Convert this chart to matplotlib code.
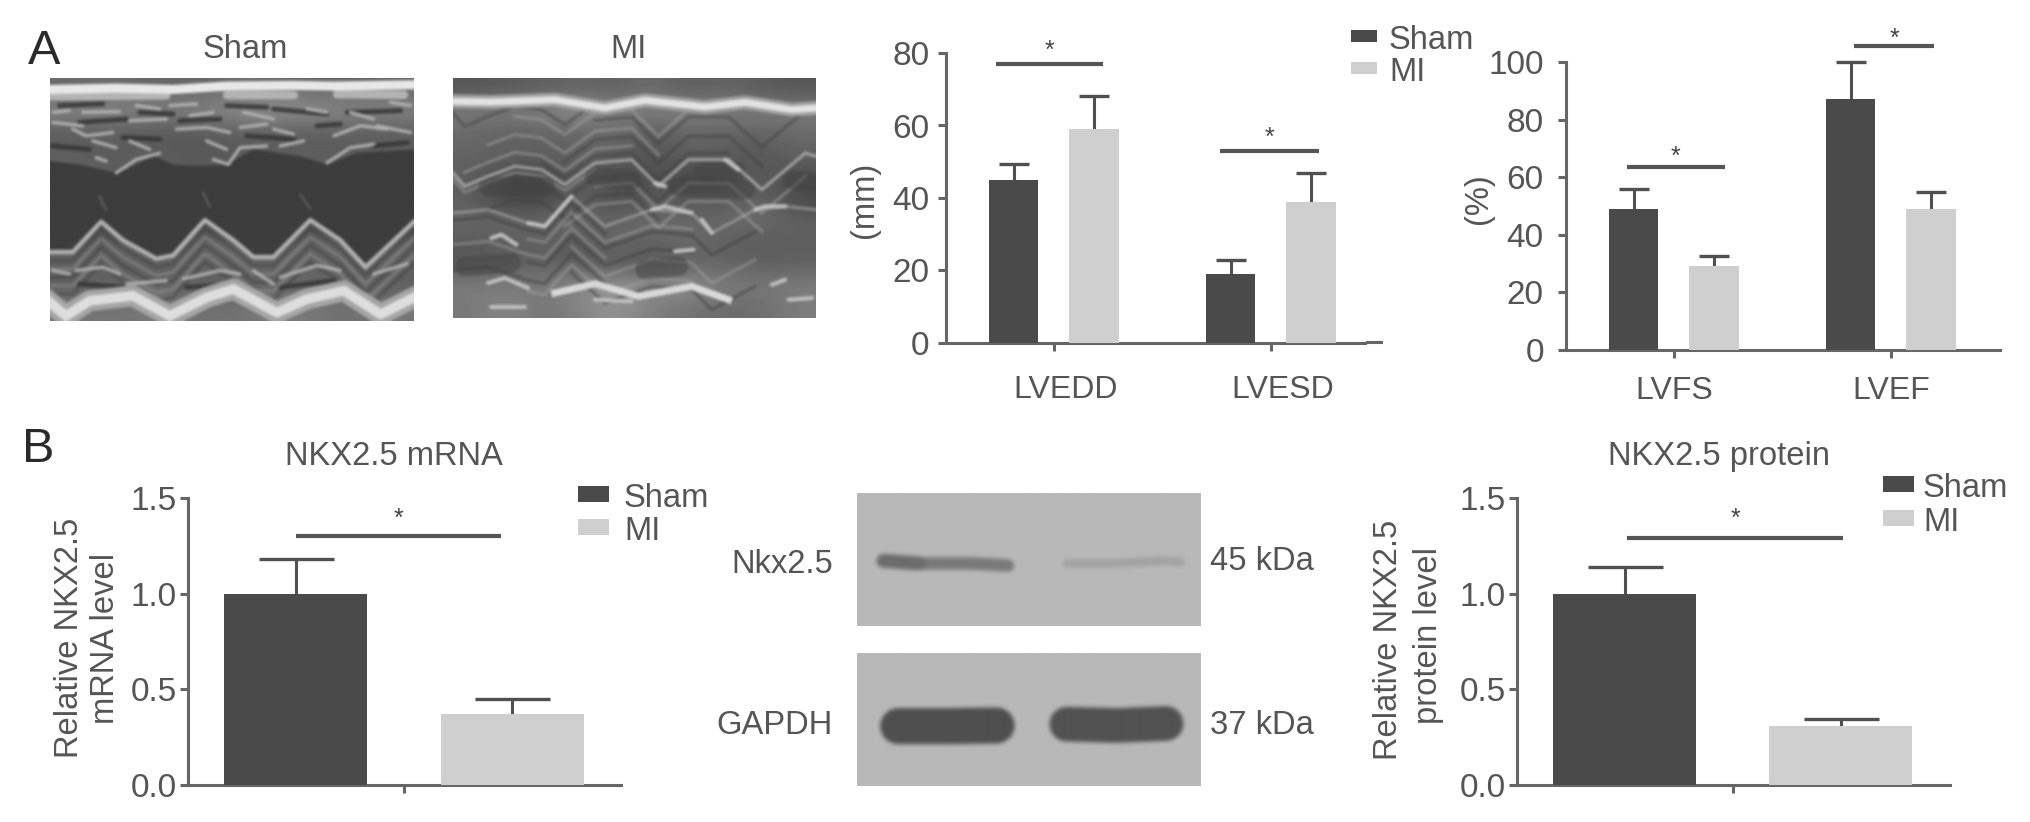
import numpy as np
import matplotlib
matplotlib.use('Agg')
import matplotlib.pyplot as plt
from matplotlib.lines import Line2D
from matplotlib.patches import Rectangle
from matplotlib.transforms import ScaledTranslation

plt.rcParams['font.family'] = ['Liberation Sans', 'DejaVu Sans']

W, H = 2031, 822
DARK = '#4a4a4a'
LIGHT = '#cfcfcf'
AXIS = '#666666'
TEXT = '#555555'

# panel A bars
lv_groups = ['LVEDD', 'LVESD']
lv_sham = [45, 19]
lv_mi = [59, 39]
lv_sham_err = [4.5, 4]
lv_mi_err = [9, 8]
lv_sig = [(-0.267, 0.226, 77, 82), (0.765, 1.221, 53, 58)]

fx_groups = ['LVFS', 'LVEF']
fx_sham = [49, 87]
fx_mi = [29, 49]
fx_sham_err = [7, 13]
fx_mi_err = [3.5, 6]
fx_sig = [(-0.217, 0.235, 63.5, 69), (0.83, 1.2, 105.7, 110)]

# panel B bars
mrna_vals = [1.0, 0.37]
mrna_err = [0.18, 0.08]
mrna_sig = (0.0, 0.95, 1.30, 1.42)
prot_vals = [1.0, 0.31]
prot_err = [0.14, 0.035]
prot_sig = (0.01, 1.01, 1.29, 1.42)

# echo panels, traced in picture units
sham_grid = [
    [105, 110, 100, 105, 110, 105, 100, 105],
    [135, 135, 125, 135, 150, 150, 135, 135],
    [90, 95, 85, 90, 95, 90, 95, 90],
    [95, 90, 95, 85, 90, 95, 90, 95],
    [100, 90, 95, 90, 95, 100, 95, 95],
    [70, 70, 70, 70, 70, 70, 70, 70],
    [70, 70, 70, 70, 70, 70, 70, 70],
    [95, 100, 105, 100, 110, 100, 105, 100],
    [100, 95, 95, 100, 95, 100, 95, 100],
    [95, 100, 105, 95, 100, 105, 100, 95],
    [120, 115, 125, 110, 120, 125, 110, 120],
]
sham_lumen_x = [32, 120, 230, 260, 340, 400, 480, 560, 640, 780, 860, 950, 1120]
sham_lumen_top = [275, 285, 310, 300, 258, 285, 290, 285, 240, 260, 285, 250, 240]
sham_edge_x = [32, 100, 185, 250, 350, 400, 495, 580, 640, 700, 810, 900, 975, 1120]
sham_edge_y = [545, 545, 455, 510, 565, 555, 450, 510, 560, 560, 450, 510, 590, 455]
sham_top_x = [32, 230, 400, 560, 760, 880, 1120]
sham_top_y = [62, 58, 62, 52, 50, 52, 48]
sham_chunks = [([32, 380], [82, 80]), ([560, 760], [78, 78]), ([890, 1090], [76, 78])]
sham_bottom_x = [32, 80, 150, 280, 390, 500, 580, 710, 800, 910, 1020, 1120]
sham_bottom_y = [695, 735, 690, 675, 735, 680, 655, 725, 685, 660, 730, 680]
sham_traces = [
    ([230, 290, 360], [310, 270, 252]), ([520, 565, 600, 680], [270, 285, 235, 230]),
    ([860, 930, 1000], [280, 235, 225]), ([100, 140, 220], [180, 200, 190]),
    ([130, 240], [130, 128]), ([410, 500, 570], [180, 175, 190]),
    ([700, 760], [180, 195]), ([880, 960, 1040], [200, 170, 180]),
    ([270, 380], [155, 150]), ([610, 700], [130, 150]),
    ([40, 90], [130, 125]), ([160, 230], [215, 235]), ([170, 200], [265, 275]),
    ([270, 330], [215, 240]), ([390, 470], [110, 105]), ([500, 560], [215, 240]),
    ([800, 860], [120, 130]), ([930, 1000], [130, 150]), ([1010, 1110], [170, 190]),
    ([720, 790], [230, 215]), ([1050, 1110], [100, 110]), ([600, 680], [175, 165]),
    ([290, 360], [110, 120]), ([40, 130], [160, 170]), ([450, 520], [140, 130]),
    ([110, 190, 240], [600, 590, 610]), ([430, 540, 600], [625, 600, 610]),
    ([720, 830, 900], [620, 585, 600]), ([1000, 1100], [610, 580]),
    ([40, 90], [600, 610]), ([260, 380], [640, 630]), ([640, 700], [600, 640]),
]
sham_faint = [([180, 200], [380, 420]), ([490, 510], [370, 410]), ([780, 810], [375, 415])]
sham_dark = [
    ([60, 190], [110, 105]), ([420, 540], [155, 150]), ([700, 860], [120, 135]),
    ([250, 360], [205, 210]), ([40, 150], [230, 240]), ([620, 760], [200, 210]),
    ([920, 1080], [130, 125]), ([560, 680], [110, 115]), ([300, 400], [130, 135]),
    ([830, 900], [170, 165]), ([120, 260], [160, 150]), ([1000, 1100], [230, 220]),
    ([120, 260], [640, 650]), ([440, 600], [650, 640]), ([720, 880], [650, 630]),
]

mi_grid = [
    [85, 90, 95, 100, 95, 110, 90, 100, 90, 85],
    [125, 125, 130, 150, 130, 130, 135, 130, 125, 125],
    [105, 95, 100, 100, 105, 90, 100, 95, 100, 105],
    [100, 100, 95, 100, 95, 80, 100, 95, 85, 100],
    [95, 70, 70, 100, 75, 85, 70, 70, 95, 75],
    [95, 65, 65, 100, 70, 90, 85, 90, 100, 70],
    [105, 100, 105, 105, 100, 110, 100, 105, 110, 95],
    [90, 95, 95, 85, 105, 95, 110, 95, 90, 95],
    [85, 90, 100, 90, 90, 85, 95, 100, 95, 95],
    [125, 125, 120, 140, 150, 140, 150, 125, 120, 125],
    [120, 135, 115, 130, 150, 125, 115, 105, 110, 125],
]
mi_top_x = [25, 140, 330, 480, 600, 780, 900, 1040, 1112]
mi_top_y = [95, 97, 90, 115, 92, 112, 98, 120, 115]
mi_bottom_x = [330, 450, 580, 740, 850]
mi_bottom_y = [670, 642, 680, 650, 690]
mi_wave_x = [25, 60, 130, 210, 290, 360, 450, 560, 640, 730, 850, 950, 1080, 1112]
mi_wave_y = [310, 350, 320, 290, 300, 345, 280, 270, 350, 270, 270, 360, 250, 260]
mi_low_x = [25, 130, 250, 300, 380, 480, 620, 740, 800, 930, 1020, 1112]
mi_low_y = [430, 420, 460, 470, 380, 470, 420, 430, 490, 420, 410, 420]
mi_wave_offsets = [-180, -150, -128, -95, -70, -42, -20, 18, 45, 70, 100, 125]
mi_low_offsets = [22, 48, 66, 95, 118, 150, 172, 205, 230]
mi_traces = [
    ([250, 300, 380], [460, 470, 380]), ([620, 660, 740], [420, 410, 430]),
    ([930, 960, 1020], [420, 410, 410]), ([140, 170, 215], [505, 495, 525]),
    ([770, 800], [450, 490]), ([130, 180, 250], [640, 625, 655]),
    ([980, 1020], [645, 630]), ([1030, 1100], [690, 685]), ([140, 240], [712, 712]),
    ([450, 560], [690, 695]), ([690, 745], [545, 540]), ([630, 660], [340, 350]),
    ([840, 880], [270, 300]),
]
mi_blobs = [([130, 300], [350, 350]), ([450, 560], [320, 330]), ([770, 870], [305, 305]),
            ([700, 900], [350, 360]), ([1040, 1100], [330, 340]), ([60, 200], [590, 580]),
            ([600, 700], [600, 590])]

# blot panels
blot_top_sham = ([435, 520, 640, 730], [272, 280, 280, 286])
blot_top_mi = ([870, 980, 1100, 1140], [280, 280, 272, 276])
blot_low_sham = ([470, 590, 703], [768, 768, 766])
blot_low_mi = ([870, 990, 1105], [762, 766, 760])

fig = plt.figure(figsize=(W / 100, H / 100), dpi=100, facecolor='white')


def px_axes(left, right, top, bottom):
    return fig.add_axes([left / W, 1 - bottom / H, (right - left) / W, (bottom - top) / H])


def fig_text(x, y, s, size=23.6, color=TEXT, ha='center', rotation=0):
    va = 'center' if rotation else 'center_baseline'
    fig.text(x / W, 1 - y / H, s, fontsize=size, color=color, ha=ha, va=va, rotation=rotation)


def legend_block(x0, x1, y_sham, y_mi, xt, h):
    for y, c, s in [(y_sham, DARK, 'Sham'), (y_mi, LIGHT, 'MI')]:
        fig.patches.append(Rectangle((x0 / W, 1 - (y + h / 2) / H), (x1 - x0) / W, h / H,
                                     transform=fig.transFigure, facecolor=c, edgecolor='none'))
        fig_text(xt, y + 1, s, ha='left')


def style_axes(ax, ticks, labels, ypad, xpad):
    for s in ['top', 'right']:
        ax.spines[s].set_visible(False)
    for s in ['left', 'bottom']:
        ax.spines[s].set_linewidth(2.2)
        ax.spines[s].set_color(AXIS)
    ax.set_yticks(ticks)
    ax.set_yticklabels(labels)
    ax.tick_params(axis='y', length=6, width=2.2, color=AXIS, labelsize=24, labelcolor=TEXT, pad=ypad)
    ax.tick_params(axis='x', length=6, width=2.2, color=AXIS, labelsize=23, labelcolor=TEXT, pad=xpad)
    ax.patch.set_alpha(0)


def sig_bar(ax, x0, x1, y, star_y):
    ax.plot([x0, x1], [y, y], color=TEXT, lw=3, clip_on=False, solid_capstyle='butt')
    ax.annotate('*', ((x0 + x1) / 2, star_y), xytext=(0, -9), textcoords='offset points',
                ha='center', va='baseline', fontsize=18, color='#444444', annotation_clip=False)


def upper_err(ax, xs, vals, errs, cap):
    eb = ax.errorbar(xs, vals, yerr=[[0] * len(errs), errs], fmt='none', ecolor='#505050',
                     elinewidth=2.2, capsize=cap, capthick=2.4, zorder=2, clip_on=False)
    eb[1][0].set_visible(False)


def group_panel(left, right, top, bottom, first_tick, groups, sham, mi, sham_err, mi_err,
                sig, ymax, ticks, label_nudge, ypad, xpad):
    span = 217.0
    ax = px_axes(left, right, top, bottom)
    x = np.arange(len(groups))
    off = 40.2 / span
    ax.bar(x - off, sham, width=49 / span, color=DARK, linewidth=0, zorder=3)
    ax.bar(x + off, mi, width=49.5 / span, color=LIGHT, linewidth=0, zorder=3)
    upper_err(ax, x - off, sham, sham_err, 10.5)
    upper_err(ax, x + off, mi, mi_err, 10.5)
    ax.set_xlim((left - first_tick) / span, (right - first_tick) / span)
    ax.set_ylim(0, ymax)
    style_axes(ax, ticks, [str(t) for t in ticks], ypad, xpad)
    ax.set_xticks(x)
    ax.set_xticklabels(groups)
    for lab in ax.get_xticklabels():
        lab.set_transform(lab.get_transform() + ScaledTranslation(label_nudge / 100, 0, fig.dpi_scale_trans))
    for s in sig:
        sig_bar(ax, *s)
    return ax


def single_panel(left, right, top, bottom, c0, c1, vals, errs, sig, width, cap):
    span = float(c1 - c0)
    ax = px_axes(left, right, top, bottom)
    ax.bar([0], vals[0], width=width / span, color=DARK, linewidth=0, zorder=3)
    ax.bar([1], vals[1], width=width / span, color=LIGHT, linewidth=0, zorder=3)
    upper_err(ax, [0, 1], vals, errs, cap)
    ax.set_xlim((left - c0) / span, (right - c0) / span)
    ax.set_ylim(0, 1.5)
    style_axes(ax, [0, 0.5, 1.0, 1.5], ['0.0', '0.5', '1.0', '1.5'], 2, 10)
    ax.set_xticks([0.5])
    ax.set_xticklabels([''])
    sig_bar(ax, *sig)
    return ax


def soften(img, r, passes=2):
    # plain box blur, the scanned panels are soft
    kernel = np.ones(2 * r + 1) / (2 * r + 1)
    for _ in range(passes):
        pad = np.pad(img, r, mode='edge')
        pad = np.apply_along_axis(lambda v: np.convolve(v, kernel, mode='same'), 0, pad)
        pad = np.apply_along_axis(lambda v: np.convolve(v, kernel, mode='same'), 1, pad)
        img = pad[r:-r, r:-r]
    return img


def soft_panel(left, right, top, bottom, draw, r):
    # draw the panel on its own canvas, blur it, then place it in the figure
    w, h = right - left, bottom - top
    tmp = plt.figure(figsize=(w / 100, h / 100), dpi=100)
    tax = tmp.add_axes([0, 0, 1, 1])
    draw(tax)
    tax.axis('off')
    tmp.canvas.draw()
    img = np.asarray(tmp.canvas.buffer_rgba())[:, :, 0].astype(float)
    plt.close(tmp)
    ax = px_axes(left, right, top, bottom)
    ax.imshow(soften(img, r), cmap='gray', vmin=0, vmax=255, aspect='auto', interpolation='bilinear')
    ax.axis('off')


def draw_strands(ax, strands, color, lw, alpha):
    for xs, ys in strands:
        ax.plot(xs, ys, color=color, lw=lw, alpha=alpha, solid_capstyle='round')


def draw_sham(ax):
    xr, yr = (32, 1120), (25, 750)
    ax.imshow(np.array(sham_grid), cmap='gray', vmin=0, vmax=255, aspect='auto',
              extent=[xr[0], xr[1], yr[1], yr[0]], interpolation='bicubic')
    draw_strands(ax, sham_dark, '#333333', 3.5, 0.8)
    xs_all = np.array(sorted(set(sham_lumen_x + sham_edge_x)))
    ax.fill_between(xs_all, np.interp(xs_all, sham_lumen_x, sham_lumen_top),
                    np.interp(xs_all, sham_edge_x, sham_edge_y), color='#3d3d3d', lw=0)
    draw_strands(ax, sham_faint, '#8a8a8a', 2, 0.35)
    for k, off in enumerate([25, 50, 75, 100, 125]):
        ax.plot(sham_edge_x, [y + off for y in sham_edge_y],
                color='#3a3a3a' if k % 2 == 0 else '#a0a0a0', lw=2.2, alpha=0.4)
    draw_strands(ax, sham_traces, '#b4b4b4', 2.4, 0.9)
    ax.plot(sham_edge_x, sham_edge_y, color='#b0b0b0', lw=3.2)
    ax.plot(sham_bottom_x, sham_bottom_y, color='#a6a6a6', lw=15)
    ax.plot(sham_bottom_x, sham_bottom_y, color='#dedede', lw=7)
    draw_strands(ax, sham_chunks, '#b4b4b4', 6, 1)
    ax.plot(sham_top_x, sham_top_y, color='#e8e8e8', lw=6.5)
    ax.set_xlim(xr)
    ax.set_ylim(yr[1], yr[0])


def draw_mi(ax):
    xr, yr = (25, 1112), (25, 745)
    ax.imshow(np.array(mi_grid), cmap='gray', vmin=0, vmax=255, aspect='auto',
              extent=[xr[0], xr[1], yr[1], yr[0]], interpolation='bicubic')
    # broken strands following the traced wall shapes
    for k, off in enumerate(mi_wave_offsets):
        i = (k * 3) % 7
        ax.plot(mi_wave_x[i:i + 7], [y + off for y in mi_wave_y[i:i + 7]],
                color='#404040' if k % 2 == 0 else '#a8a8a8', lw=2.4, alpha=0.42)
    for k, off in enumerate(mi_low_offsets):
        i = (k * 2) % 6
        ax.plot(mi_low_x[i:i + 6], [y + off for y in mi_low_y[i:i + 6]],
                color='#3c3c3c' if k % 2 == 0 else '#a4a4a4', lw=2.4, alpha=0.42)
    draw_strands(ax, mi_blobs, '#444444', 14, 0.5)
    ax.plot(mi_wave_x, mi_wave_y, color='#b4b4b4', lw=2.4, alpha=0.7)
    ax.plot(mi_low_x, mi_low_y, color='#a8a8a8', lw=2.2, alpha=0.6)
    draw_strands(ax, mi_traces, '#c4c4c4', 3, 0.9)
    ax.plot(mi_bottom_x, mi_bottom_y, color='#d8d8d8', lw=5)
    ax.plot(mi_top_x, mi_top_y, color='#a0a0a0', lw=10)
    ax.plot(mi_top_x, mi_top_y, color='#e2e2e2', lw=5)
    ax.set_xlim(xr)
    ax.set_ylim(yr[1], yr[0])


def draw_blot_top(ax):
    ax.add_patch(Rectangle((0, 0), 1, 1, transform=ax.transAxes, color='#b8b8b8', zorder=0))
    ax.plot(*blot_top_sham, color='#7a7a7a', lw=9, solid_capstyle='round')
    ax.plot(blot_top_sham[0][:2], blot_top_sham[1][:2], color='#6c6c6c', lw=10, solid_capstyle='round')
    ax.plot(*blot_top_mi, color='#a2a2a2', lw=6, solid_capstyle='round')
    ax.set_xlim(372, 1188)
    ax.set_ylim(468, 68)


def draw_blot_low(ax):
    ax.add_patch(Rectangle((0, 0), 1, 1, transform=ax.transAxes, color='#b8b8b8', zorder=0))
    ax.plot(*blot_low_sham, color='#4f4f4f', lw=26, solid_capstyle='round')
    ax.plot(*blot_low_mi, color='#525252', lw=25, solid_capstyle='round')
    ax.set_xlim(372, 1188)
    ax.set_ylim(948, 548)


soft_panel(50, 414, 78, 321, draw_sham, 1)
soft_panel(453, 816, 78, 318, draw_mi, 1)
soft_panel(857, 1200, 493, 626, draw_blot_top, 2)
soft_panel(857, 1200, 653, 786, draw_blot_low, 2)

# panel A charts
group_panel(946, 1365, 53, 343, 1054, lv_groups, lv_sham, lv_mi, lv_sham_err, lv_mi_err,
            lv_sig, 80, [0, 20, 40, 60, 80], 12, 6, 17)
fig.add_artist(Line2D([1367 / W, 1381 / W], [1 - 342 / H, 1 - 342 / H], color=AXIS, lw=2.2))
group_panel(1566, 2000, 62, 350, 1674, fx_groups, fx_sham, fx_mi, fx_sham_err, fx_mi_err,
            fx_sig, 100, [0, 20, 40, 60, 80, 100], 0, 10, 13)

# panel B charts
single_panel(188, 621, 498, 785, 295.5, 512, mrna_vals, mrna_err, mrna_sig, 143, 27)
single_panel(1517, 1950, 498, 785, 1625, 1841, prot_vals, prot_err, prot_sig, 143, 27)

# legends
legend_block(1351, 1377, 36, 68, 1389, 12)
legend_block(578, 609, 494, 527, 624, 16)
legend_block(1883, 1914, 484, 518, 1923, 16)

# text
fig_text(28, 47, 'A', size=35, color='#2a2a2a', ha='left')
fig_text(22, 444, 'B', size=35, color='#2a2a2a', ha='left')
fig_text(245, 46, 'Sham')
fig_text(629, 46, 'MI')
fig_text(865, 200, '(mm)', rotation=90)
fig_text(1479, 199, '(%)', rotation=90)
fig_text(394, 453, 'NKX2.5 mRNA')
fig_text(1719, 453, 'NKX2.5 protein')
fig_text(69, 638, 'Relative NKX2.5', rotation=90)
fig_text(106, 638, 'mRNA level', rotation=90)
fig_text(1389, 640, 'Relative NKX2.5', rotation=90)
fig_text(1429, 635, 'protein level', rotation=90)
fig_text(833, 561, 'Nkx2.5', ha='right')
fig_text(833, 722, 'GAPDH', ha='right')
fig_text(1210, 558, '45 kDa', ha='left')
fig_text(1210, 722, '37 kDa', ha='left')

fig.savefig('out.png', dpi=100, facecolor='white')
